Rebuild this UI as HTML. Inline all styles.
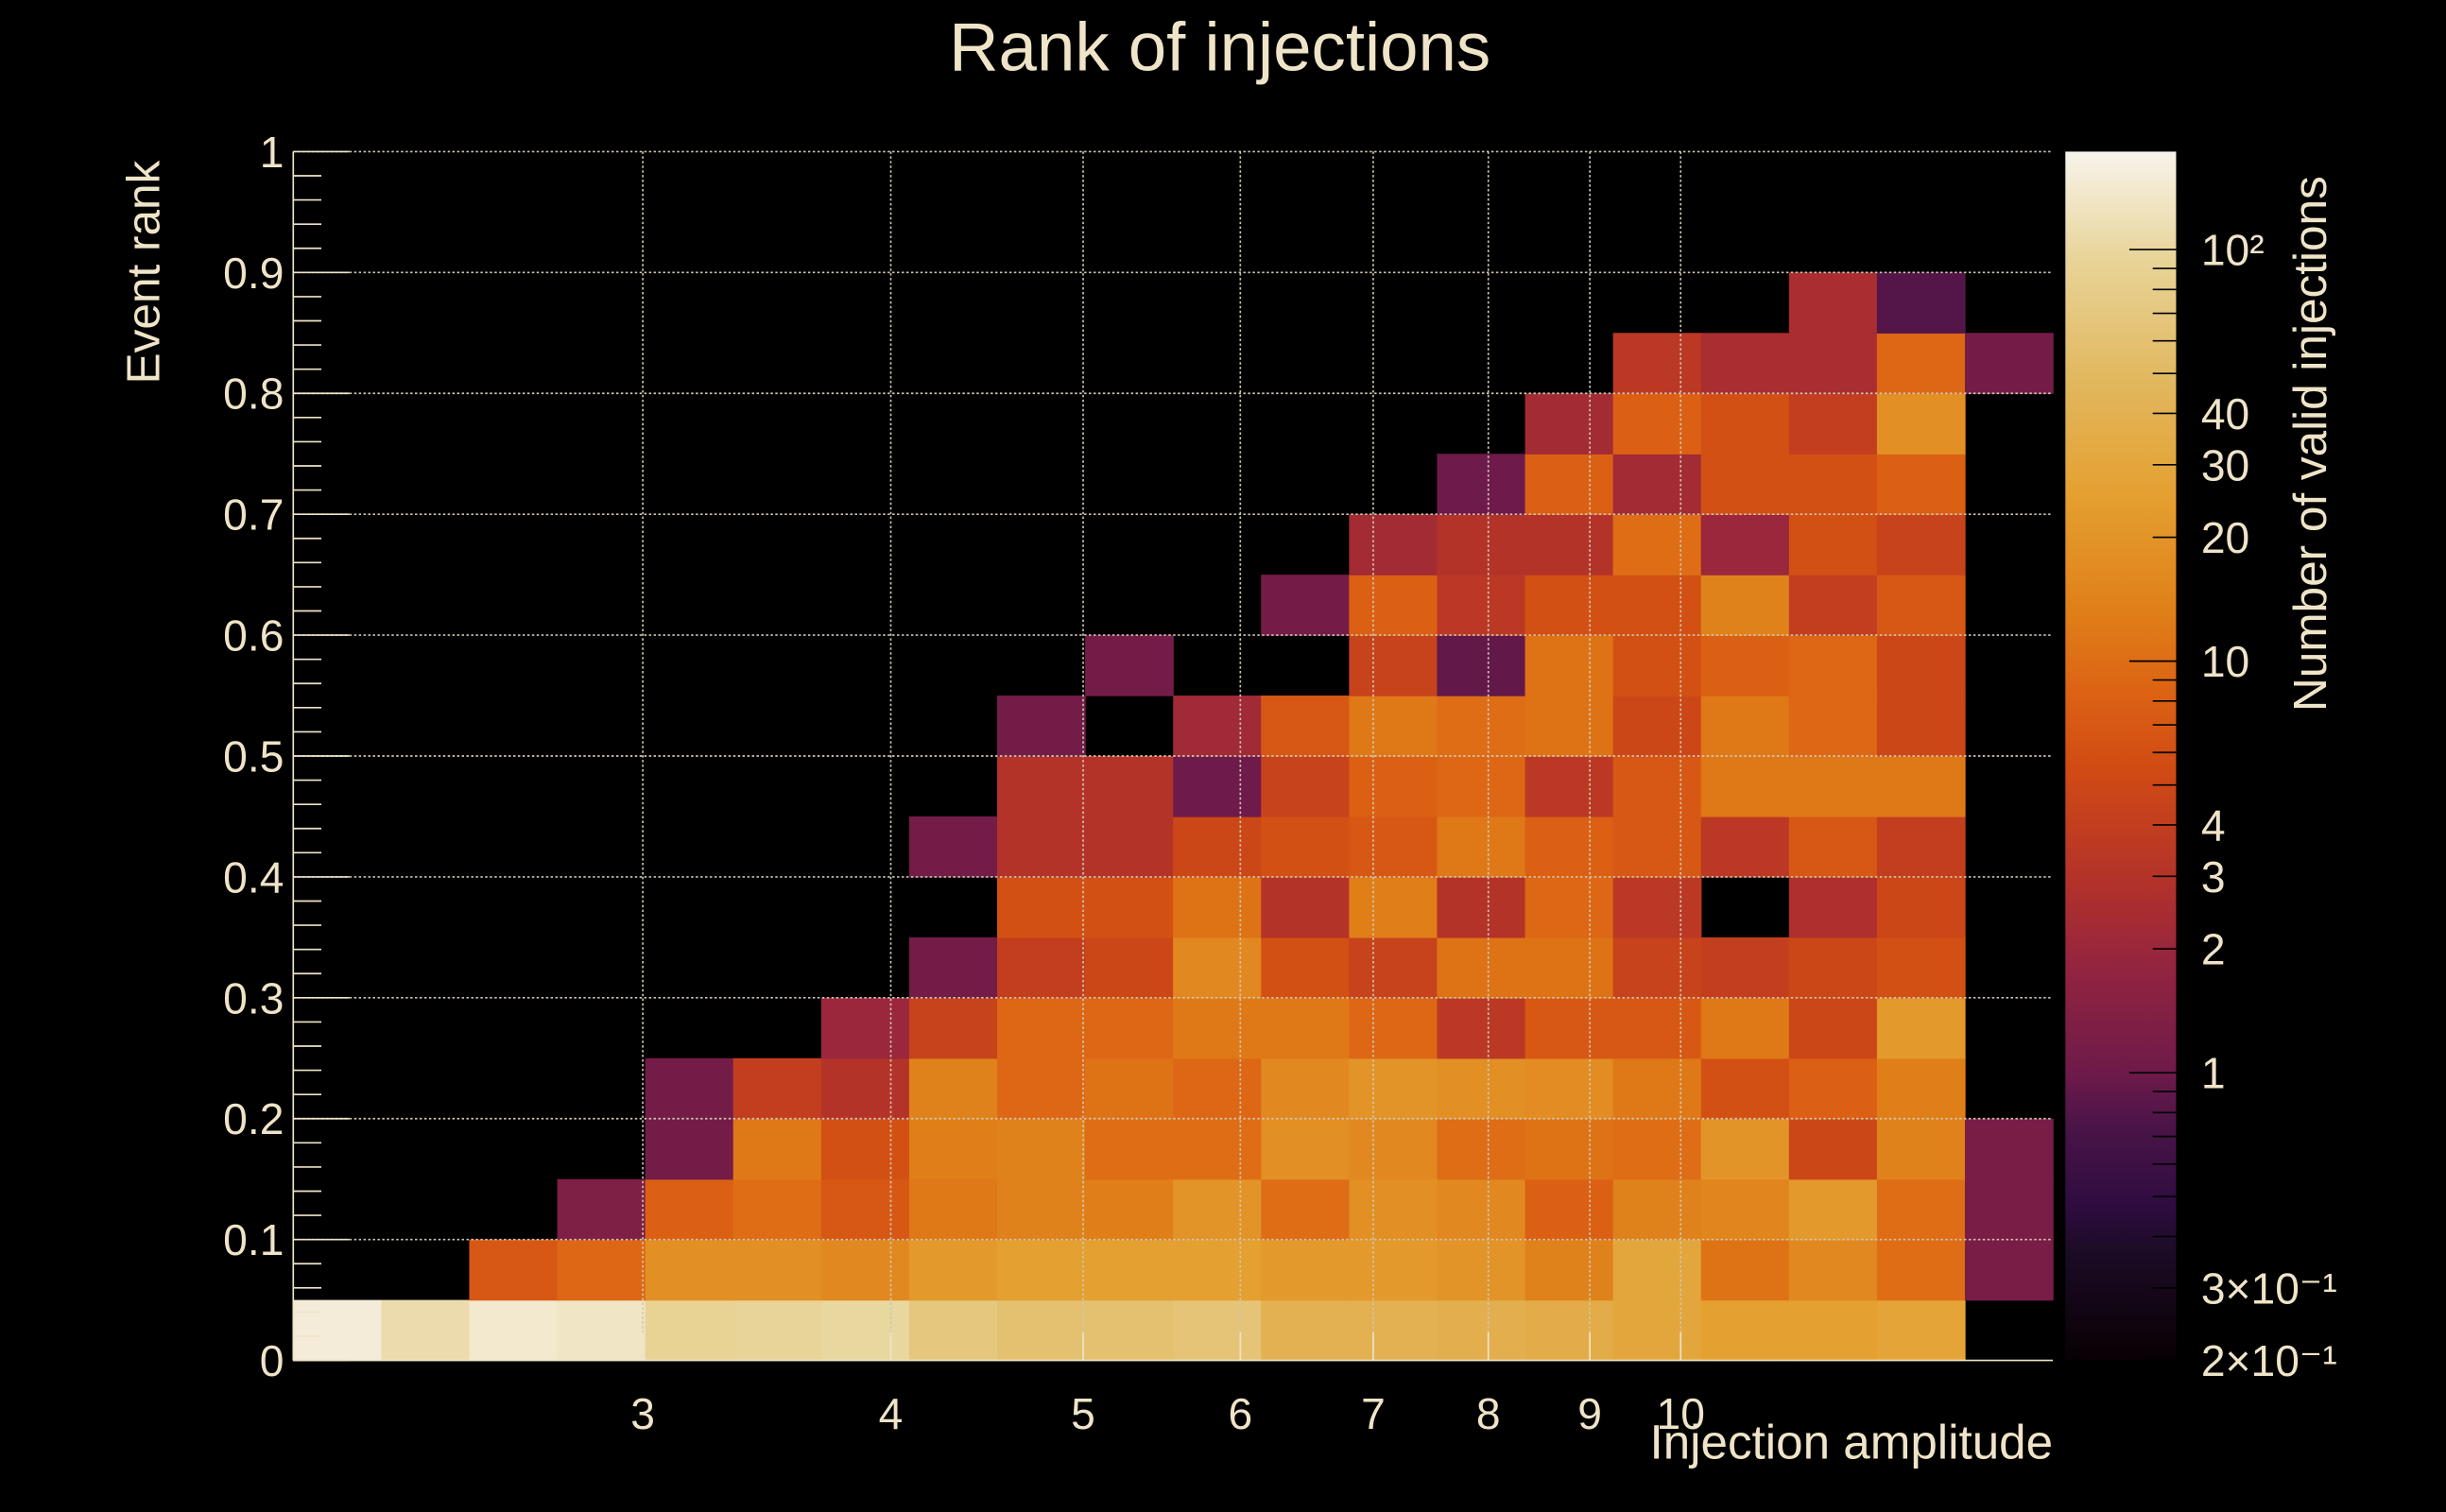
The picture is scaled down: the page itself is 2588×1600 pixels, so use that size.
<!DOCTYPE html>
<html><head><meta charset="utf-8"><style>
html,body{margin:0;padding:0;background:#000;}
svg{display:block;}
text{font-family:"Liberation Sans",sans-serif;fill:#efe4c8;}
</style></head><body>
<svg id="chart" width="2588" height="1600" viewBox="0 0 1568 969" xmlns="http://www.w3.org/2000/svg">
<rect x="0" y="0" width="1568" height="969" fill="#000"/>
<defs>
<linearGradient id="cbar" x1="0" y1="1" x2="0" y2="0">
<stop offset="0" stop-color="#080004"/>
<stop offset="0.095" stop-color="#1e0c28"/>
<stop offset="0.127" stop-color="#2e0c40"/>
<stop offset="0.192" stop-color="#4a1448"/>
<stop offset="0.238" stop-color="#6e1a4a"/>
<stop offset="0.323" stop-color="#922440"/>
<stop offset="0.389" stop-color="#b0302c"/>
<stop offset="0.487" stop-color="#d04a14"/>
<stop offset="0.552" stop-color="#dc6214"/>
<stop offset="0.617" stop-color="#e07e18"/>
<stop offset="0.715" stop-color="#e4a030"/>
<stop offset="0.813" stop-color="#e2b860"/>
<stop offset="0.911" stop-color="#e8d498"/>
<stop offset="1" stop-color="#f8f4ec"/>
</linearGradient>
</defs>
<text x="782" y="45" font-size="44" text-anchor="middle">Rank of injections</text>
<g id="cells"></g>
<g id="grid"></g>
<g id="axes"></g>
<rect x="1324" y="97" width="71" height="775" fill="url(#cbar)"/>
<g id="cbaxis"></g>
<text transform="translate(102,246) rotate(-90)" font-size="30" text-anchor="start">Event rank</text>
<text x="1316" y="935" font-size="31" text-anchor="end">Injection amplitude</text>
<text transform="translate(1491,456) rotate(-90)" font-size="30" text-anchor="start">Number of valid injections</text>
</svg>
<script>
// ---- data ----
const xMin = 2.0, xMax = 15.4, nX = 20;
const yMin = 0, yMax = 1, nY = 20;
const xTicks = [3,4,5,6,7,8,9,10];
const yTicks = [0,0.1,0.2,0.3,0.4,0.5,0.6,0.7,0.8,0.9,1];
const yTickLabels = ["0","0.1","0.2","0.3","0.4","0.5","0.6","0.7","0.8","0.9","1"];
const zMin = 0.2, zMax = 173;
const zMajorTicks = [0.2,0.3,1,2,3,4,10,20,30,40,100];
const zMajorLabels = ["2×10⁻¹","3×10⁻¹","1","2","3","4","10","20","30","40","10²"];
// counts per row (row 0 = rank 0-0.05), 20 columns each
const row0  = [150,110,140,130,90,95,100,70,60,60,65,40,40,38,35,30,25,25,28,0];
const row1  = [0,0,7,9,18,18,16,22,25,25,25,22,22,20,14,30,11,16,10,1.2];
const row2  = [0,0,0,1.3,8,10,7,12,14,13,20,10,18,16,8,14,15,22,10,1.2];
const row3  = [0,0,0,0,1.1,12,6,13,14,10,10,18,16,10,11,10,20,5,14,1.2];
const row4  = [0,0,0,0,1.1,4,3,14,9,11,9,16,20,18,17,12,6,8,13,0];
const row5  = [0,0,0,0,0,0,2,4.5,9,9,12,12,9,3.5,7,7,12,5,22,0];
const row6  = [0,0,0,0,0,0,0,1.1,4,5,16,6,4.5,11,11,4.5,4,5,6,0];
const row7  = [0,0,0,0,0,0,0,0,6,6,11,3,13,3,9,3.5,0,2.7,5,0];
const row8  = [0,0,0,0,0,0,0,1.1,3,3,5,6,7,12,8,7,3.5,7,4,0];
const row9  = [0,0,0,0,0,0,0,0,3,3,1.0,4.5,8,9,3.5,7,12,12,12,0];
const row10 = [0,0,0,0,0,0,0,0,1.1,0,2.2,7,12,10,11,5,12,9,5,0];
const row11 = [0,0,0,0,0,0,0,0,0,1.1,0,0,4.5,0.9,11,6,8,9,5,0];
const row12 = [0,0,0,0,0,0,0,0,0,0,0,1.1,8,3.5,6,6,14,4,7,0];
const row13 = [0,0,0,0,0,0,0,0,0,0,0,0,2.3,3,3,10,2,6,4.5,0];
const row14 = [0,0,0,0,0,0,0,0,0,0,0,0,0,1.0,8,2.3,6,6,8,0];
const row15 = [0,0,0,0,0,0,0,0,0,0,0,0,0,0,2.3,8,6,4,18,0];
const row16 = [0,0,0,0,0,0,0,0,0,0,0,0,0,0,0,3.5,2.5,2.5,9,1.1];
const row17 = [0,0,0,0,0,0,0,0,0,0,0,0,0,0,0,0,0,2.5,0.8,0];
const row18 = [0,0,0,0,0,0,0,0,0,0,0,0,0,0,0,0,0,0,0,0];
const row19 = [0,0,0,0,0,0,0,0,0,0,0,0,0,0,0,0,0,0,0,0];
const rows = [row0,row1,row2,row3,row4,row5,row6,row7,row8,row9,row10,row11,row12,row13,row14,row15,row16,row17,row18,row19];

// ---- layout ----
const PL=188, PR=1316, PT=97, PB=872, CB0=1324, CB1=1395;
const NS="http://www.w3.org/2000/svg";
function xs(v){return PL+(Math.log(v)-Math.log(xMin))/(Math.log(xMax)-Math.log(xMin))*(PR-PL);}
function ys(v){return PB-(v-yMin)/(yMax-yMin)*(PB-PT);}
function zs(v){return PB-(Math.log(v)-Math.log(zMin))/(Math.log(zMax)-Math.log(zMin))*(PB-PT);}
const stops=[[0,[8,0,4]],[0.095,[30,12,40]],[0.127,[46,12,64]],[0.192,[74,20,72]],[0.238,[110,26,74]],[0.323,[146,36,64]],[0.389,[176,48,44]],[0.487,[208,74,20]],[0.552,[220,98,20]],[0.617,[224,126,24]],[0.715,[228,160,48]],[0.813,[226,184,96]],[0.911,[232,212,152]],[1,[248,244,236]]];
function color(v){
  let t=(Math.log(v)-Math.log(zMin))/(Math.log(zMax)-Math.log(zMin));
  t=Math.max(0,Math.min(1,t));
  for(let i=1;i<stops.length;i++){
    if(t<=stops[i][0]){
      const a=stops[i-1],b=stops[i],f=(t-a[0])/(b[0]-a[0]);
      const c=a[1].map((q,k)=>Math.round(q+(b[1][k]-q)*f));
      return `rgb(${c[0]},${c[1]},${c[2]})`;
    }
  }
  return "rgb(248,244,236)";
}
function mk(tag,attrs,parent){const e=document.createElementNS(NS,tag);for(const k in attrs)e.setAttribute(k,attrs[k]);parent.appendChild(e);return e;}

// cells
const cells=document.getElementById('cells');
const lx0=Math.log(xMin), lx1=Math.log(xMax);
for(let r=0;r<rows.length;r++){
  for(let c=0;c<nX;c++){
    const v=rows[r][c];
    if(!v) continue;
    const xa=Math.exp(lx0+(lx1-lx0)*c/nX), xb=Math.exp(lx0+(lx1-lx0)*(c+1)/nX);
    const ya=yMin+(yMax-yMin)*r/nY, yb=yMin+(yMax-yMin)*(r+1)/nY;
    const x1=xs(xa), x2=xs(xb), y1=ys(yb), y2=ys(ya);
    const e=mk('rect',{x:x1,y:y1,width:x2-x1+0.4,height:y2-y1+0.4,fill:color(v)},cells);
    
    
  }
}
// grid
const grid=document.getElementById('grid');
xTicks.forEach(t=>{
  const e=mk('line',{x1:xs(t),x2:xs(t),y1:PT,y2:PB,stroke:'#cfc6b0','stroke-width':1,'stroke-dasharray':'1.5,1.5'},grid);
  
  
});
yTicks.forEach(t=>{
  if(t===0) return;
  const e=mk('line',{x1:PL,x2:PR,y1:ys(t),y2:ys(t),stroke:'#cfc6b0','stroke-width':1,'stroke-dasharray':'1.5,1.5'},grid);
  
  
});
// axes
const axes=document.getElementById('axes');
mk('line',{x1:PL,x2:PL,y1:PT,y2:PB,stroke:'#efe4c8','stroke-width':1},axes);
mk('line',{x1:PL,x2:PR,y1:PB,y2:PB,stroke:'#efe4c8','stroke-width':1},axes);
for(let i=0;i<=50;i++){
  const v=i*0.02, y=ys(v), major=(i%5===0);
  mk('line',{x1:PL,x2:PL+(major?36:18),y1:y,y2:y,stroke:'#efe4c8','stroke-width':1},axes);
}
yTicks.forEach((t,i)=>{
  const e=mk('text',{x:PL-6,y:ys(t)+10,'font-size':28,'text-anchor':'end'},axes);
  e.textContent=yTickLabels[i];
  
  
});
xTicks.forEach(t=>{
  mk('line',{x1:xs(t),x2:xs(t),y1:PB,y2:PB-18,stroke:'#efe4c8','stroke-width':1},axes);
  const e=mk('text',{x:xs(t),y:916,'font-size':28,'text-anchor':'middle'},axes);
  e.textContent=String(t);
  
  
});
// color bar axis
const cb=document.getElementById('cbaxis');
const minor=[];
[0.1,1,10,100].forEach(d=>{for(let k=2;k<=9;k++){const v=k*d; if(v>=zMin&&v<=zMax) minor.push(v);}});
minor.push(1,10,100);
minor.forEach(v=>{
  const major=(v===1||v===10||v===100);
  mk('line',{x1:CB1,x2:CB1-(major?30:15),y1:zs(v),y2:zs(v),stroke:'#000','stroke-width':1},cb);
});
zMajorTicks.forEach((v,i)=>{
  const e=mk('text',{x:1411,y:zs(v)+10,'font-size':28,'text-anchor':'start'},cb);
  e.textContent=zMajorLabels[i];
  
  
});
</script>
</body></html>
